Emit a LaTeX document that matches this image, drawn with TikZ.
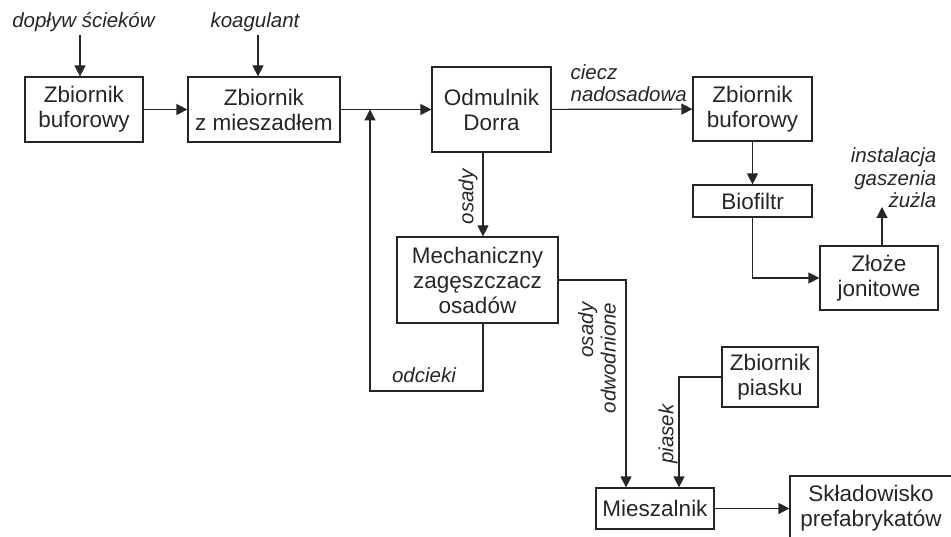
\documentclass[tikz,border=0pt]{standalone}
\usepackage{fontspec}
\setmainfont{Liberation Sans}
\usetikzlibrary{arrows.meta}

\begin{document}
\begin{tikzpicture}[x=1pt, y=1pt,
    line width=1.2pt, draw=black!85, text=black!85,
    box/.style={draw, inner sep=0pt, align=center,
        font=\fontsize{22.5}{25}\selectfont},
    lbl/.style={inner sep=0pt, align=center,
        font=\fontsize{20.5}{22.5}\selectfont\itshape},
    flow/.style={-{Triangle[length=11pt,width=11pt]}}]
    % Ramka obrazka
    \useasboundingbox (0,0) rectangle (951,536);

    % Bloki (srodki w pikselach, y od dolu)
    \node[box, minimum width=118pt, minimum height=65pt] (buf1) at (84, 426.5) {Zbiornik\\buforowy};
    \node[box, minimum width=152pt, minimum height=65pt] (mix) at (264, 426.5) {Zbiornik\\z mieszadłem};
    \node[box, minimum width=119pt, minimum height=85pt] (dorra) at (491.5, 426.5) {Odmulnik\\Dorra};
    \node[box, minimum width=119pt, minimum height=64pt] (buf2) at (752.5, 427) {Zbiornik\\buforowy};
    \node[box, minimum width=119pt, minimum height=32pt] (bio) at (752.5, 335) {Biofiltr};
    \node[box, minimum width=118pt, minimum height=64pt] (jonit) at (879, 258) {Złoże\\jonitowe};
    \node[box, minimum width=161pt, minimum height=86pt] (mech) at (477.5, 256) {Mechaniczny\\zagęszczacz\\osadów};
    \node[box, minimum width=96pt, minimum height=60pt] (pias) at (770, 159) {Zbiornik\\piasku};
    \node[box, minimum width=118pt, minimum height=41pt] (miesz) at (655, 27.5) {Mieszalnik};
    \node[box, minimum width=162pt, minimum height=64pt] (sklad) at (871, 28) {Składowisko\\prefabrykatów};

    % Wolne konce strzalek
    \coordinate (in1) at (80, 501);
    \coordinate (in2) at (258, 501);
    \coordinate (odc) at (370, 145);
    \coordinate (out) at (882, 329);

    % Opisy strumieni
    \node[lbl] (ldop) at (83.5, 514) {dopływ ścieków};
    \node[lbl] (lkoag) at (255, 514) {koagulant};
    \node[lbl, align=left, anchor=west] (lciecz) at (570, 453) {ciecz\\nadosadowa};
    \node[lbl, align=right, anchor=east] (linst) at (937, 358) {instalacja\\gaszenia\\żużla};
    \node[lbl, rotate=90] (losad) at (468, 339) {osady};
    \node[lbl] (lodc) at (424, 161) {odcieki};
    \node[lbl, rotate=90, align=right] (lodw) at (597, 178) {osady\\odwodnione};
    \node[lbl, rotate=90] (lpias) at (668, 102) {piasek};

    % Ciag glowny
    \draw[flow] (in1) -- (in1 |- buf1.north);
    \draw[flow] (in2) -- (in2 |- mix.north);
    \draw[flow] (buf1) -- (mix);
    \draw[flow] (mix) -- (dorra);
    \draw[flow] (dorra) -- (buf2);
    \draw[flow] (buf2) -- (bio);
    \draw[flow] (bio.south) |- (jonit.west);
    \draw[flow] (out |- jonit.north) -- (out);

    % Osady
    \draw[flow] ([xshift=-8.5pt]dorra.south) -- ([xshift=-8.5pt]dorra.south |- mech.north);
    \draw[flow] ([xshift=5.5pt]mech.south) |- (odc) -- (odc |- mix.east);
    \draw[flow] (mech.east) -| ([xshift=-29pt]miesz.north);
    \draw[flow] (pias.west) -| ([xshift=24pt]miesz.north);
    \draw[flow] (miesz.east) -- (miesz.east -| sklad.west);
\end{tikzpicture}
\end{document}
